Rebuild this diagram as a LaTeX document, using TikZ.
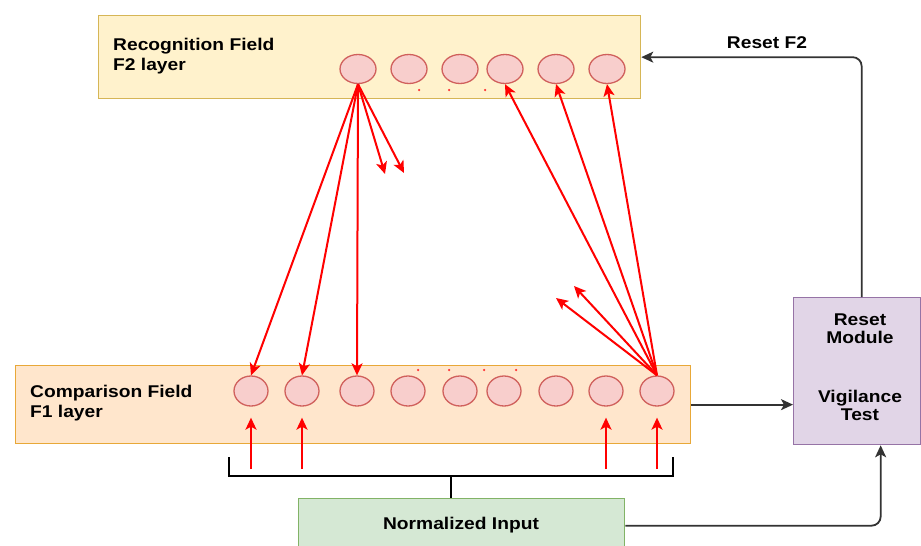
\documentclass[tikz,border=0pt]{standalone}
\usepackage{fontspec}
\setmainfont{Liberation Sans}
\usetikzlibrary{arrows.meta,shapes.geometric}
\definecolor{fTwoFill}{HTML}{FFF2CC}
\definecolor{fTwoLine}{HTML}{D6B656}
\definecolor{fOneFill}{HTML}{FFE6CC}
\definecolor{fOneLine}{HTML}{E8A838}
\definecolor{cellFill}{HTML}{F8CECC}
\definecolor{cellLine}{HTML}{D0605C}
\definecolor{inFill}{HTML}{D5E8D4}
\definecolor{inLine}{HTML}{82B366}
\definecolor{rsFill}{HTML}{E1D5E7}
\definecolor{rsLine}{HTML}{9673A6}
\definecolor{wire}{HTML}{333333}
\newcommand{\wide}[1]{\scalebox{1.13}[1]{#1}}
\tikzset{
  lbl/.style={font=\fontsize{17}{20}\selectfont\bfseries, inner sep=0pt, align=left},
  layerbox/.style={draw, line width=1.3pt, anchor=north west, inner sep=0pt},
  cell/.style={ellipse, draw=cellLine, fill=cellFill, line width=1.3pt, inner sep=0pt},
  topcell/.style={cell, minimum width=36pt, minimum height=29pt},
  botcell/.style={cell, minimum width=34pt, minimum height=30pt},
  redarrow/.style={draw=red, line width=2pt, -{Stealth[length=12pt,width=11pt,inset=3pt]}},
  blkarrow/.style={draw=wire, line width=1.8pt, -{Stealth[length=12pt,width=11pt,inset=3pt]}},
  dotmark/.style={circle, fill=red!80, inner sep=0pt, minimum size=2.5pt}
}
\begin{document}
\begin{tikzpicture}[x=1pt,y=-1pt]
\useasboundingbox (0,0) rectangle (921,546);
\fill[white] (0,0) rectangle (921,546);

% layer boxes
\node[layerbox, draw=fTwoLine, fill=fTwoFill, minimum width=542pt, minimum height=83pt] (f2box) at (98,15) {};
\node[layerbox, draw=fOneLine, fill=fOneFill, minimum width=675pt, minimum height=78pt] (f1box) at (15,365) {};
\node[layerbox, draw=inLine, fill=inFill, minimum width=326pt, minimum height=54pt] (inbox) at (298,498) {};
\node[layerbox, draw=rsLine, fill=rsFill, minimum width=127pt, minimum height=147pt] (reset) at (793,297) {};

% box texts
\node[lbl, anchor=west] (f2txt) at (113,56) {\wide{Recognition Field}\\\wide{F2 layer}};
\node[lbl, anchor=west] (f1txt) at (30,403) {\wide{Comparison Field}\\\wide{F1 layer}};
\node[lbl, align=center] (intxt) at (461,525) {\wide{Normalized Input}};
\node[lbl, align=center, font=\fontsize{17}{18.5}\selectfont\bfseries] (rstxt) at (860,367)
  {\wide{Reset}\\\wide{Module}\\[40pt]\wide{Vigilance}\\\wide{Test}};

% F2 cells
\foreach \i/\x in {1/358,2/409,3/460,4/505,5/556,6/607}
  \node[topcell] (t\i) at (\x,69) {};
% F1 cells
\foreach \i/\x in {1/251,2/302,3/357,4/408,5/460,6/504,7/556,8/606,9/657}
  \node[botcell] (b\i) at (\x,391) {};

% ellipsis dots
\foreach \i/\x in {1/419,2/449,3/485}
  \node[dotmark] (dt\i) at (\x,90) {};
\foreach \i/\x in {1/418,2/449,3/484,4/516}
  \node[dotmark] (db\i) at (\x,370) {};

% top-down weights
\draw[redarrow] (t1.south) -- (b1.north);
\draw[redarrow] (t1.south) -- (b2.north);
\draw[redarrow] (t1.south) -- (b3.north);
\coordinate (tdA) at (385,174);
\coordinate (tdB) at (404,173);
\draw[redarrow] (t1.south) -- (tdA);
\draw[redarrow] (t1.south) -- (tdB);

% bottom-up weights
\draw[redarrow] (b9.north) -- (t4.south);
\draw[redarrow] (b9.north) -- (t5.south);
\draw[redarrow] (b9.north) -- (t6.south);
\coordinate (buA) at (556,298);
\coordinate (buB) at (574,286);
\draw[redarrow] (b9.north) -- (buA);
\draw[redarrow] (b9.north) -- (buB);

% input lines into F1
\foreach \i/\x in {1/251,2/302,8/606,9/657} {
  \coordinate (src\i) at (\x,469);
  \draw[redarrow, shorten >=11pt] (src\i) -- (b\i.south);
}

% input bracket
\coordinate (brL) at (229,457);
\coordinate (brR) at (673,457);
\coordinate (brM) at (451,476);
\draw[black, line width=2.6pt] (brL) |- (brM) -| (brR);
\draw[black, line width=2.6pt] (brM) -- (brM |- inbox.north);

% control connections
\draw[blkarrow] (f1box.east) -- (f1box.east -| reset.west);
\draw[blkarrow, rounded corners=9pt] (inbox.east) -| ([xshift=23.5pt]reset.south);
\draw[blkarrow, rounded corners=9pt] ([xshift=4.5pt]reset.north) |- (f2box.east);
\node[lbl] (rsf2) at (767,43) {\wide{Reset F2}};
\end{tikzpicture}
\end{document}
